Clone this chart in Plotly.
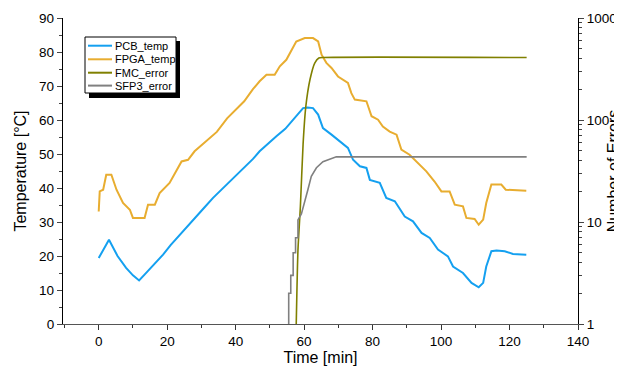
import plotly.graph_objects as go

# ---------------- data ----------------
pcb_t = [0, 3.0, 5.5, 8.0, 10.0, 11.8, 14.0, 16.5, 18.8, 21.0, 23.7, 26.0, 28.5, 31.0,
         33.4, 36.0, 38.3, 40.5, 43.1, 45.0, 47.0, 49.5, 51.9, 54.5, 56.8, 58.5, 59.7,
         61.0, 62.6, 64.1, 65.5, 68.0, 70.4, 72.8, 74.3, 76.3, 78.2, 79.2, 82.1, 84.0,
         86.5, 89.4, 91.8, 94.3, 96.7, 99.1, 102.0, 103.5, 106.4, 108.9, 111.0, 112.3,
         113.2, 114.7, 116.2, 118.6, 121.0, 124.9]
pcb_temp = [19.4, 24.8, 20.0, 16.5, 14.3, 12.8, 15.2, 17.8, 20.4, 23.2, 26.3, 28.8, 31.6,
            34.4, 37.1, 39.6, 41.9, 44.2, 46.4, 48.5, 50.8, 52.9, 55.2, 57.4, 60.1, 62.0,
            63.5, 63.7, 63.5, 61.6, 57.6, 55.7, 53.7, 51.8, 48.3, 46.4, 45.9, 42.4, 41.5,
            37.1, 36.1, 31.6, 30.2, 26.8, 25.3, 21.9, 19.9, 16.9, 15.0, 12.1, 10.8, 12.1,
            16.9, 21.4, 21.6, 21.4, 20.6, 20.4]

fpga_t = [0, 0.3, 1.3, 2.2, 3.7, 5.2, 7.1, 9.1, 10.0, 13.4, 14.4, 16.4, 17.8, 20.7, 24.2,
          26.1, 28.0, 31.9, 34.5, 37.5, 40.0, 42.5, 45.0, 47.0, 49.0, 51.4, 52.9, 54.8,
          57.7, 60.2, 62.6, 64.1, 65.1, 66.5, 68.0, 69.9, 72.8, 73.8, 74.8, 78.2, 79.7,
          81.6, 83.0, 85.0, 87.0, 88.4, 90.8, 93.3, 95.7, 98.1, 100.1, 102.5, 104.0, 106.4,
          107.4, 109.8, 111.0, 112.3, 113.2, 114.7, 117.6, 118.9, 124.9]
fpga_temp = [33.1, 39.0, 39.5, 43.9, 43.9, 39.5, 35.6, 33.6, 31.2, 31.2, 35.1, 35.1, 38.5,
             41.5, 47.8, 48.3, 50.8, 54.2, 56.5, 60.5, 63.0, 65.5, 69.0, 71.4, 73.3, 73.3,
             75.8, 77.7, 83.1, 84.1, 84.1, 83.1, 79.2, 76.8, 75.3, 72.8, 70.9, 67.9, 66.0,
             65.5, 61.1, 60.1, 58.1, 56.6, 55.7, 51.3, 49.8, 47.4, 44.9, 41.9, 39.0, 39.0,
             35.1, 34.6, 31.2, 30.9, 29.2, 30.7, 35.6, 41.0, 41.0, 39.5, 39.2]

fmc_t = [57.7, 58.2, 58.9, 59.7, 60.5, 61.7, 63.1, 64.3, 65.5, 125.0]
fmc_err = [1, 5.3, 14, 58, 136, 248, 362, 405, 410, 410]

sfp_t = [55.5, 55.5, 56.1, 56.1, 56.8, 56.8, 57.5, 57.5, 58.2, 58.2, 59.2, 60.2, 61.1,
         62.1, 63.6, 65.5, 67.5, 69.4, 125.0]
sfp_err = [1, 2, 2, 3, 3, 5, 5, 7, 7, 10.5, 12, 16.5, 20.7, 28, 34, 39, 41.5, 43.5, 43.5]

series_names = ["PCB_temp", "FPGA_temp", "FMC_error", "SFP3_error"]
series_colors = ["#14A0F0", "#E8AD30", "#808000", "#808080"]

x_ticks = [0, 20, 40, 60, 80, 100, 120, 140]
y_ticks = [0, 10, 20, 30, 40, 50, 60, 70, 80, 90]

# ---------------- figure ----------------
FONT = "Liberation Sans, Arial, sans-serif"
OFF = 8                      # page body margin of the browser
W, H = 614, 359
L, R, T, B = 55, 44, 10, 43
PW, PH = W - L - R, H - T - B

fig = go.Figure()
fig.add_trace(go.Scatter(x=pcb_t, y=pcb_temp, name=series_names[0], mode="lines",
                         line=dict(color=series_colors[0], width=2)))
fig.add_trace(go.Scatter(x=fpga_t, y=fpga_temp, name=series_names[1], mode="lines",
                         line=dict(color=series_colors[1], width=2)))
fig.add_trace(go.Scatter(x=fmc_t, y=fmc_err, name=series_names[2], mode="lines", yaxis="y2",
                         line=dict(color=series_colors[2], width=1.6, shape="spline", smoothing=0.6)))
fig.add_trace(go.Scatter(x=sfp_t, y=sfp_err, name=series_names[3], mode="lines", yaxis="y2",
                         line=dict(color=series_colors[3], width=1.6)))

fig.update_layout(
    width=W, height=H,
    margin=dict(l=L, r=R, t=T, b=B, autoexpand=False),
    paper_bgcolor="white", plot_bgcolor="white",
    font=dict(family=FONT, color="black", size=13.5),
    showlegend=False,
    xaxis=dict(range=[-10.43, 140], tickvals=x_ticks, showline=True, linecolor="#555555",
               linewidth=1.3, ticks="outside", ticklen=5, tickcolor="#333333", showgrid=False,
               zeroline=False, automargin=False,
               minor=dict(ticks="outside", ticklen=3, dtick=10, tick0=0, tickcolor="#333333"),
               title=dict(text="Time [min]", font=dict(size=16), standoff=3)),
    yaxis=dict(range=[0, 90], tickvals=y_ticks, showline=True, linecolor="black",
               linewidth=1.3, ticks="outside", ticklen=5, showgrid=False, zeroline=False,
               automargin=False,
               minor=dict(ticks="outside", ticklen=3, dtick=5, tick0=0),
               title=dict(text="Temperature [°C]", font=dict(size=16), standoff=8)),
    yaxis2=dict(type="log", range=[0, 3], overlaying="y", side="right", dtick=1,
                exponentformat="none", showline=True, linecolor="black", linewidth=1.3,
                ticks="outside", ticklen=5, showgrid=False, zeroline=False, automargin=False,
                minor=dict(ticks="outside", ticklen=3, dtick="D1"),
                title=dict(text="Number of Errors", font=dict(size=16), standoff=9)),
)

# ---------------- hand-drawn legend box with drop shadow ----------------
def px(x):
    return (x - OFF - L) / PW

def py(y):
    return (H - B - (y - OFF)) / PH

fig.add_shape(type="rect", xref="paper", yref="paper", x0=px(89), x1=px(180),
              y0=py(98), y1=py(41), fillcolor="black", line=dict(width=0), layer="above")
fig.add_shape(type="rect", xref="paper", yref="paper", x0=px(85), x1=px(176),
              y0=py(93), y1=py(37), fillcolor="white", line=dict(color="black", width=1),
              layer="above")
row_y = [45.7, 59.3, 72.7, 85.6]
for name, color, ry in zip(series_names, series_colors, row_y):
    fig.add_shape(type="line", xref="paper", yref="paper", x0=px(88), x1=px(112),
                  y0=py(ry), y1=py(ry), line=dict(color=color, width=2), layer="above")
    fig.add_annotation(xref="paper", yref="paper", x=px(113), y=py(ry), text=name,
                       showarrow=False, xanchor="left", yanchor="middle",
                       font=dict(size=11, color="black"))

fig.write_html("out.html")
